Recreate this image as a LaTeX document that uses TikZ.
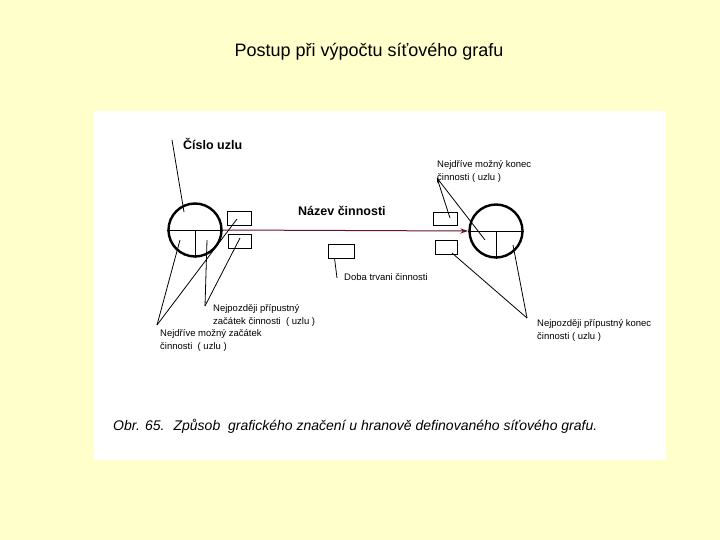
\documentclass[tikz,border=0pt]{standalone}
\usepackage{fontspec}
\setmainfont{Liberation Sans}
\usetikzlibrary{arrows.meta}
\definecolor{bgyellow}{RGB}{255,255,204}
\definecolor{arrowred}{RGB}{100,20,35}
\begin{document}
\begin{tikzpicture}[x=1pt,y=-1pt,
  ring/.style={circle,draw,line width=2.4pt,minimum size=53pt,inner sep=0pt},
  box/.style={draw,line width=0.9pt,minimum width=24pt,minimum height=14pt,inner sep=0pt},
  lbl/.style={anchor=west,inner sep=0pt,align=left,font=\fontsize{9.5}{13}\selectfont},
  bold/.style={anchor=west,inner sep=0pt,font=\fontsize{12.5}{14}\selectfont\bfseries},
  lead/.style={line width=0.8pt}]
\useasboundingbox (0,0) rectangle (720,540);
\fill[bgyellow] (0,0) rectangle (720,540);
\fill[white] (94,111) rectangle (666,460);
\node[font=\fontsize{18}{21}\selectfont] (title) at (369,52) {Postup při výpočtu síťového grafu};
% circles
\node[ring] (c1) at (195,230) {};
\node[ring] (c2) at (496,231) {};
\draw[lead] (c1.west) -- (c1.east);
\draw[lead] (c1.center) -- (c1.south);
\draw[lead] (c2.west) -- (c2.east);
\draw[lead] (c2.center) -- (c2.south);
\draw[arrowred,line width=1pt,-{Stealth[length=8pt,width=5pt]}] (c1.east) -- (c2.west);
% boxes
\node[box] (b1) at (239,218) {};
\node[box,minimum width=23pt] (b2) at (240,241) {};
\node[box,minimum height=13pt] (b3) at (445,218.5) {};
\node[box,minimum width=22pt] (b4) at (446,247) {};
\node[box,minimum width=26pt] (b5) at (341,251) {};
% labels
\node[bold] (cislo) at (183,144) {Číslo uzlu};
\node[bold] (nazev) at (298,211) {Název činnosti};
\node[lbl] (doba) at (344,277) {Doba trvani činnosti};
\node[lbl] (nmk) at (437,171.5) {Nejdříve možný konec\\činnosti ( uzlu )};
\node[lbl] (npk) at (537,330.5) {Nejpozději přípustný konec\\činnosti ( uzlu )};
\node[lbl] (npz) at (213,315) {Nejpozději přípustný\\začátek činnosti \ ( uzlu )};
\node[lbl] (nmz) at (160,340.5) {Nejdříve možný začátek\\činnosti \ ( uzlu )};
\node[anchor=west,inner sep=0pt,font=\fontsize{14}{16}\selectfont\itshape] (cap) at (113,426) {Obr. 65. \ Způsob \ grafického značení u hranově definovaného síťového grafu.};
% leader points
\coordinate (a1) at (437,178);
\coordinate (a2) at (527,318);
\coordinate (a3) at (205,306);
\coordinate (a4) at (157,325);
\coordinate (cs) at (172,140);
\coordinate (ce) at (184,212);
\draw[lead] (cs) -- (ce);
\draw[lead] (b5.south west) ++(7,0) coordinate (d0) -- (337,278);
\draw[lead,{Stealth[length=5pt,width=3pt]}-] (a1) -- (450,218);
\draw[lead] (a1) -- (485,240);
\draw[lead] (a2) -- (452,253);
\draw[lead] (a2) -- (513,245);
\draw[lead] (a3) -- (207,240);
\draw[lead] (a3) -- (240,238);
\draw[lead] (a4) -- (180,240);
\draw[lead] (a4) -- (237,219);
\end{tikzpicture}
\end{document}
